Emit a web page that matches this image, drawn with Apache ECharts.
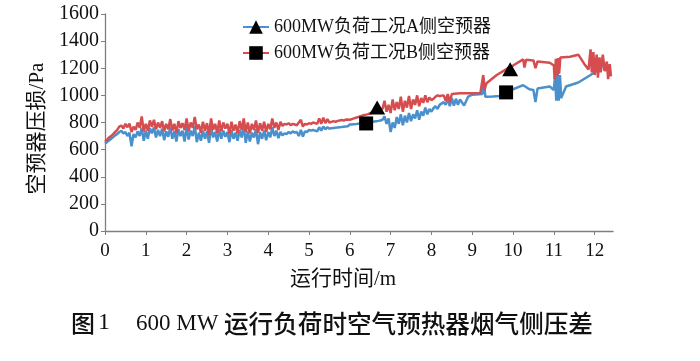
<!DOCTYPE html>
<html>
<head>
<meta charset="utf-8">
<script src="https://cdn.jsdelivr.net/npm/echarts@6/dist/echarts.min.js"></script>
<style>
html,body{margin:0;padding:0;background:#fff;}
#chart{width:700px;height:361px;}
</style>
</head>
<body>
<div id="chart"></div>
<script>
// ---- data ----
var seriesNames = ['600MW负荷工况A侧空预器', '600MW负荷工况B侧空预器'];
var xTickValues = [0,1,2,3,4,5,6,7,8,9,10,11,12];

// dense part: one line per month, 0.05 month steps
var timeDense = [
  0.00,0.05,0.10,0.15,0.20,0.25,0.30,0.35,0.40,0.45,0.50,0.55,0.60,0.65,0.70,0.75,0.80,0.85,0.90,0.95,
  1.00,1.05,1.10,1.15,1.20,1.25,1.30,1.35,1.40,1.45,1.50,1.55,1.60,1.65,1.70,1.75,1.80,1.85,1.90,1.95,
  2.00,2.05,2.10,2.15,2.20,2.25,2.30,2.35,2.40,2.45,2.50,2.55,2.60,2.65,2.70,2.75,2.80,2.85,2.90,2.95,
  3.00,3.05,3.10,3.15,3.20,3.25,3.30,3.35,3.40,3.45,3.50,3.55,3.60,3.65,3.70,3.75,3.80,3.85,3.90,3.95,
  4.00,4.05,4.10,4.15,4.20,4.25,4.30,4.35,4.40,4.45,4.50,4.55,4.60,4.65,4.70,4.75,4.80,4.85,4.90,4.95,
  5.00,5.05,5.10,5.15,5.20,5.25,5.30,5.35,5.40,5.45,5.50,5.55,5.60,5.65,5.70,5.75,5.80,5.85,5.90,5.95,
  6.00,6.05,6.10,6.15,6.20,6.25,6.30,6.35,6.40,6.45,6.50,6.55,6.60,6.65,6.70,6.75,6.80,6.85,6.90,6.95,
  7.00,7.05,7.10,7.15,7.20,7.25,7.30,7.35,7.40,7.45,7.50,7.55,7.60,7.65,7.70,7.75,7.80,7.85,7.90,7.95,
  8.00,8.05,8.10,8.15,8.20];

var pressureDenseA = [
  645,655,668,680,692,705,715,730,738,720,730,700,725,625,715,690,735,700,760,665,
  740,680,760,720,765,690,745,700,755,670,735,695,765,680,735,660,750,700,740,660,
  770,675,740,700,775,655,725,665,740,680,735,650,765,690,730,660,750,680,740,695,
  730,655,745,680,725,665,745,690,770,650,735,660,725,690,750,640,730,680,740,670,
  730,690,765,700,740,685,730,705,720,715,730,720,735,725,730,700,745,696,735,730,
  745,740,745,740,735,765,740,770,750,765,755,758,760,762,764,765,766,768,770,772,
  785,786,787,788,790,792,794,796,798,800,803,806,808,810,812,815,820,845,790,830,
  730,800,760,840,790,860,780,850,800,870,810,860,830,890,820,880,850,910,860,900,
  880,905,920,900,930];

var pressureDenseB = [
  660,672,690,700,715,730,745,770,778,755,790,765,792,730,770,745,800,760,845,735,
  790,740,815,770,820,750,800,760,810,735,790,750,825,740,790,720,810,760,795,745,
  830,735,800,760,840,750,785,725,805,740,795,710,830,745,790,720,815,735,800,755,
  790,715,805,740,785,720,810,745,830,730,800,720,790,745,815,725,795,740,805,730,
  790,750,830,760,800,745,805,775,790,785,795,780,790,785,780,800,820,770,790,785,
  795,790,800,795,790,830,790,835,795,825,800,805,810,805,812,815,818,815,820,822,
  820,825,830,835,840,845,850,855,858,862,868,872,878,884,890,895,900,960,880,930,
  870,970,890,950,900,990,880,960,910,995,900,970,930,1000,920,980,945,1000,950,985,
  965,975,990,1000,995];

// sparse later part
var timeTailA = [8.3,8.35,8.4,8.45,8.5,8.55,8.6,8.65,8.7,8.8,8.9,9.0,9.25,9.28,9.32,9.5,9.7,9.9,10.0,
  10.25,10.4,10.5,10.55,10.6,10.9,11.0,11.03,11.06,11.09,11.12,11.15,11.18,11.3,11.6,11.9,12.0,12.1,12.2,12.25,12.3,12.35,12.4];
var pressureTailA = [950,930,975,920,980,925,975,930,970,925,990,1005,1010,1130,990,992,995,1030,1045,
  1075,1045,1040,950,1050,1065,1040,1140,960,1190,960,1150,980,1065,1095,1150,1170,1205,1230,1180,1215,1170,1180];

var timeTailB = [8.3,8.35,8.4,8.45,8.5,8.7,9.0,9.2,9.27,9.3,9.35,9.6,9.85,10.0,10.25,10.28,10.32,10.5,10.55,10.6,
  10.9,11.0,11.02,11.05,11.08,11.1,11.13,11.16,11.4,11.6,11.75,11.85,11.9,11.93,11.97,12.0,12.05,12.08,12.12,12.15,
  12.2,12.25,12.3,12.33,12.37,12.4];
var pressureTailB = [1000,960,1010,950,1010,1015,1015,1018,1150,1040,1090,1150,1195,1220,1265,1205,1262,1258,1200,1250,
  1240,1220,1120,1270,1140,1275,1160,1280,1285,1300,1230,1190,1340,1170,1320,1150,1300,1130,1280,1170,
  1300,1180,1250,1120,1230,1140];

var markTimeA = [6.67, 9.93];
var markValueA = [911, 1193];
var markTimeB = [6.4, 9.83];
var markValueB = [793, 1022];

var captionLabel = '图';
var captionNumber = '1';
var captionLoad = '600 MW';
var captionText = '运行负荷时空气预热器烟气侧压差';

function pairs(xs, ys){ var out=[]; for(var i=0;i<xs.length;i++){ out.push([xs[i], ys[i]]); } return out; }

var serifFont = "'Liberation Serif', 'Noto Sans CJK SC', serif";
var axisColor = '#7f7f7f';
var blue = '#4A90CC';
var red = '#D64D4F';

var chart = echarts.init(document.getElementById('chart'), null, {renderer:'canvas'});
chart.setOption({
  animation: false,
  backgroundColor: '#fff',
  grid: {left: 105, right: 87, top: 14, bottom: 130, containLabel: false},
  legend: {
    data: seriesNames,
    orient: 'vertical',
    left: 242, top: 18, padding: 0,
    itemWidth: 26, itemHeight: 17, itemGap: 8,
    textStyle: {fontFamily: serifFont, fontSize: 18, color: '#111'}
  },
  xAxis: {
    type: 'value', min: 0, max: 12.45, interval: 1,
    name: '运行时间/m', nameLocation: 'middle', nameGap: 38,
    nameTextStyle: {fontFamily: serifFont, fontSize: 21, color: '#111', padding: [0, 32, 0, 0]},
    axisLine: {show: true, lineStyle: {color: axisColor, width: 1.3}},
    axisTick: {show: true, length: 4, inside: false, customValues: xTickValues, lineStyle: {color: axisColor}},
    axisLabel: {customValues: xTickValues, margin: 11, fontFamily: serifFont, fontSize: 19, color: '#111'},
    splitLine: {show: false}
  },
  yAxis: {
    type: 'value', min: 0, max: 1600, interval: 200,
    name: '空预器压损/Pa', nameLocation: 'middle', nameGap: 33, nameRotate: 90,
    nameTextStyle: {fontFamily: serifFont, fontSize: 21, color: '#111', padding: [0, 12, 0, 0]},
    axisLine: {show: true, lineStyle: {color: axisColor, width: 1.3}},
    axisTick: {show: true, length: 4, inside: false, lineStyle: {color: axisColor}},
    axisLabel: {margin: 6, fontFamily: serifFont, fontSize: 20, color: '#111',
      formatter: function(v){ return String(v); }},
    splitLine: {show: false}
  },
  series: [
    {
      name: seriesNames[0], type: 'line', data: pairs(timeDense.concat(timeTailA), pressureDenseA.concat(pressureTailA)),
      symbol: 'triangle', showSymbol: false, itemStyle: {color: '#000'},
      lineStyle: {color: blue, width: 2.5}, emphasis: {disabled: true}, z: 2
    },
    {
      name: seriesNames[1], type: 'line', data: pairs(timeDense.concat(timeTailB), pressureDenseB.concat(pressureTailB)),
      symbol: 'rect', showSymbol: false, itemStyle: {color: '#000'},
      lineStyle: {color: red, width: 2.5}, emphasis: {disabled: true}, z: 3
    },
    {
      name: 'A标记', type: 'scatter', data: pairs(markTimeA, markValueA),
      symbol: 'triangle', symbolSize: [16, 14], itemStyle: {color: '#000', opacity: 1}, z: 5
    },
    {
      name: 'B标记', type: 'scatter', data: pairs(markTimeB, markValueB),
      symbol: 'rect', symbolSize: [14, 14], itemStyle: {color: '#000', opacity: 1}, z: 5
    }
  ],
  graphic: [
    {type: 'text', left: 71, top: 311, style: {
      text: '{h|' + captionLabel + '}{n|' + captionNumber + '}',
      rich: {
        h: {font: "500 24px 'Noto Sans CJK SC'", fill: '#111'},
        n: {font: "24px 'Liberation Serif'", fill: '#111', padding: [0, 0, 0, 3]}
      }}},
    {type: 'text', left: 136, top: 312, style: {text: captionLoad, font: "23px 'Liberation Serif'", fill: '#111'}},
    {type: 'text', left: 224, top: 311, style: {text: captionText, font: "500 24.6px 'Noto Sans CJK SC'", fill: '#111'}}
  ]
});
</script>
</body>
</html>
